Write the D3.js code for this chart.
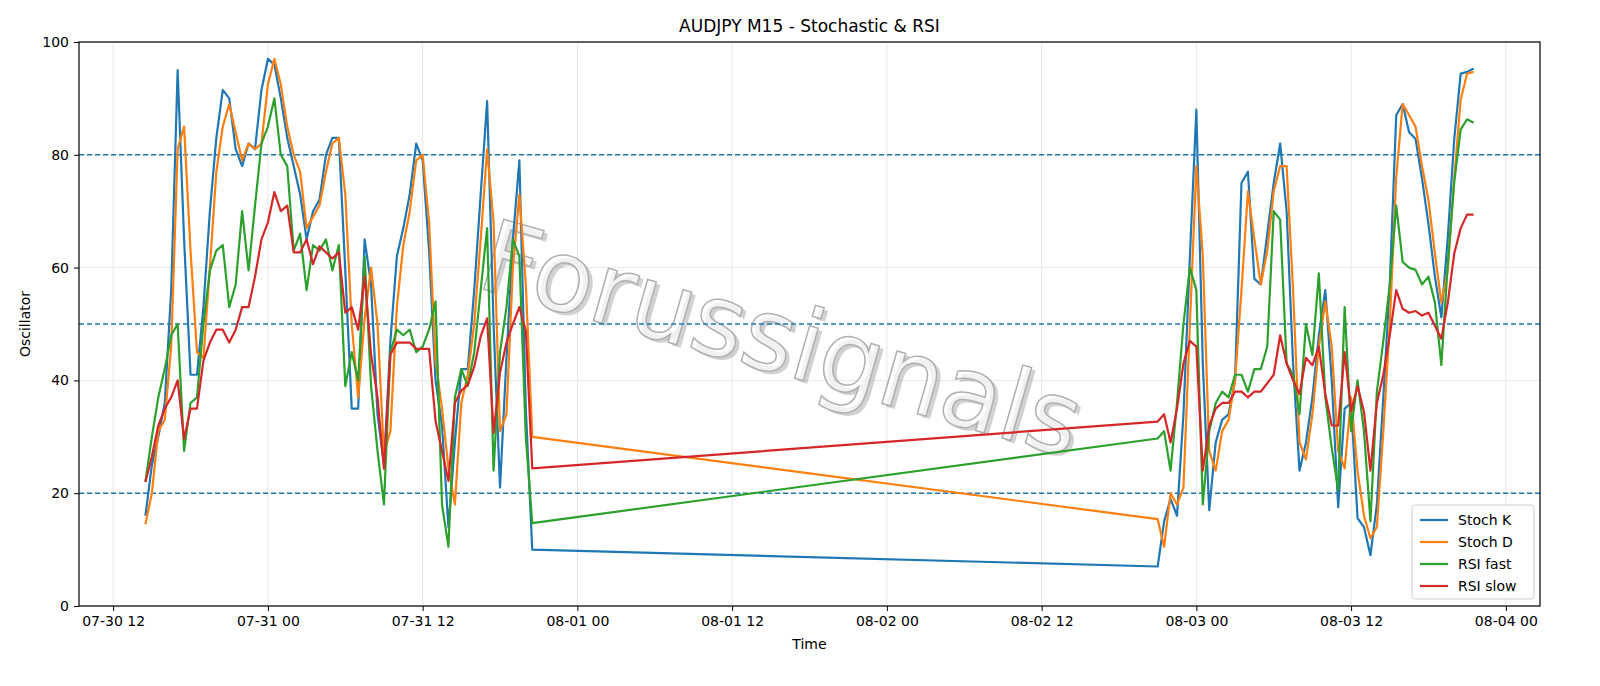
<!DOCTYPE html>
<html>
<head>
<meta charset="utf-8">
<script src="https://cdn.jsdelivr.net/npm/d3@7"></script>
<style>
  body { margin: 0; background: #fff; }
  text { font-family: "DejaVu Sans", sans-serif; }
</style>
</head>
<body>
<svg id="chart" width="1600" height="686"></svg>
<script>
// two runs of 30-minute bars with a gap between them
var seg1Start = "2020-07-30 14:30";
var seg2Start = "2020-08-02 21:00";

var stochK1 = [16,25,30,36,56,95,65,41,41,53,70,83,91.5,90,81,78,82,81,91.5,97,96,90,83,78,73,65,70,72,80,83,
  83,59.5,35,35,65,57,34,25,47,62,67,73,82,79,63,40,32,14,29,42,42,56,73,89.5,50,21,44,65,79,35,10];
var stochD1 = [14.5,20,31,33,46,81,85,63,45,44,60,77,85,89,84,79,82,81,82,92.5,97,92.5,85,80,77,67,69,71,77,82,
  83,73,50,37,51,60,50,27,31,53,64,70,79,80,68,43.5,35,24.5,18,36,41,50,65,81,68,31,34,60,73,57,30];
var rsiFast1 = [22,30,37,42,48,50,27.5,36,37,50,59.5,63,64,53,57,70,59.5,71,82,85,90,80,78,63,66,56,64,63,65,59.5,
  64,39,45,40,62,39,27.5,18,45,49,48,49,45,46,49,54,18,10.5,37,42,39,45,56,67,24,45,53,65,62,30,14.7];
var rsiSlow1 = [22,26.5,32,35,37,40,29.6,35,35,43.5,46.7,49,49,46.7,49,53,53,58.4,65,68,73.4,70,71,62.7,62.7,65,60.6,63.8,62.7,61.6,
  62.7,52,53,49,58.4,44.6,37,24.3,44.6,46.7,46.7,46.7,45.6,45.6,45.6,32.8,27.5,22.2,36,38.2,39.2,42.4,47.8,51,30.7,41.4,46.7,50,53,48.8,24.4];

var stochK2 = [7,15,19,16,34,62,88,43,17,29,33,34,40,75,77,58,57,66,75,82,70,43,24,29,37,48,56,40,17.5,35,
  36,15.6,14,9,18,37,57,87,89,84,82.8,75.8,67.7,58.4,51.2,65.4,82.8,94.4,94.7,95.3];
var stochD2 = [15.4,10.5,20,18,21,50,78,62,27.5,24,31,33,40,56,73.5,65,57,63,73.5,78,78,56,29,26,34,46,54,46,27.5,24.4,
  37,24,16,12,14,31,50,76,89,87,85,78,72,62.5,53.8,59.6,75.8,89.8,94.4,94.7];
var rsiFast2 = [29.7,31,24,36,50,60,56,18,31,36,38,37,41,41,38,42,42,46,70,68.5,43,41,34,50,44.5,59,37,28,20.6,53,
  31,40,31,15,38,47,57,71,61,60,59.6,57,58.4,53.8,42.7,60.7,75.2,84.5,86.3,85.7];
var rsiSlow2 = [32.7,34,29,35,43,47,46,24,32,35,36,36,38,38,37,38,38,39.5,41,48,43,40,37.6,44,42.7,46,37.6,32,32,45,
  34.5,39,34.5,24,36,41,48,56,52.7,52,52.3,51.5,52,49.7,47.4,53.8,62.5,67,69.4,69.4];

var seriesNames = ["Stoch K", "Stoch D", "RSI fast", "RSI slow"];
var seriesColors = ["#1f77b4", "#ff7f0e", "#2ca02c", "#d62728"];
var levels = [20, 50, 80];
var yTicks = [0, 20, 40, 60, 80, 100];

var parse = d3.timeParse("%Y-%m-%d %H:%M");
function times(start, n) {
    var t0 = parse(start);
    return d3.range(n).map(i => d3.timeMinute.offset(t0, i * 30));
}
var t1 = times(seg1Start, stochK1.length);
var t2 = times(seg2Start, stochK2.length);
var allTimes = t1.concat(t2);

var series = [
    stochK1.concat(stochK2),
    stochD1.concat(stochD2),
    rsiFast1.concat(rsiFast2),
    rsiSlow1.concat(rsiSlow2)
];

var W = 1600, H = 686;
var margin = {top: 42, right: 60, bottom: 80, left: 79};
var w = W - margin.left - margin.right;
var h = H - margin.top - margin.bottom;

var svg = d3.select("#chart");
var g = svg.append("g").attr("transform", `translate(${margin.left},${margin.top})`);

var tMin = d3.min(allTimes), tMax = d3.max(allTimes);
var pad = (tMax - tMin) * 0.05;
var x = d3.scaleTime()
    .domain([new Date(+tMin - pad), new Date(+tMax + pad)])
    .range([0, w]);
var y = d3.scaleLinear().domain([0, 100]).range([h, 0]);

var xTicks = d3.timeHour.every(12).range(x.domain()[0], x.domain()[1]);

// grid
g.selectAll(".vgrid").data(xTicks).enter().append("line")
    .attr("x1", d => x(d)).attr("x2", d => x(d))
    .attr("y1", 0).attr("y2", h)
    .attr("stroke", "#e6e6e6").attr("stroke-width", 1);
g.selectAll(".hgrid").data(yTicks).enter().append("line")
    .attr("x1", 0).attr("x2", w)
    .attr("y1", d => y(d)).attr("y2", d => y(d))
    .attr("stroke", "#e6e6e6").attr("stroke-width", 1);

// watermark
var wmX = 772 - margin.left, wmY = 372 - margin.top;
g.append("text")
    .attr("transform", `translate(${wmX + 4},${wmY + 3}) rotate(16)`)
    .attr("text-anchor", "middle")
    .attr("font-size", 100)
    .attr("fill", "#9a9a9a")
    .attr("opacity", 0.45)
    .text("Forussignals");
g.append("text")
    .attr("transform", `translate(${wmX},${wmY}) rotate(16)`)
    .attr("text-anchor", "middle")
    .attr("font-size", 100)
    .attr("fill", "#ffffff")
    .attr("fill-opacity", 0.7)
    .attr("stroke", "#b0b0b0")
    .attr("stroke-width", 1.5)
    .text("Forussignals");

// level lines
g.selectAll(".level").data(levels).enter().append("line")
    .attr("x1", 0).attr("x2", w)
    .attr("y1", d => y(d)).attr("y2", d => y(d))
    .attr("stroke", "#1f77b4").attr("stroke-width", 1.4)
    .attr("stroke-dasharray", "5,3");

// series
var line = d3.line().x((d, i) => x(allTimes[i])).y(d => y(d));
series.forEach((s, i) => {
    g.append("path")
        .datum(s)
        .attr("fill", "none")
        .attr("stroke", seriesColors[i])
        .attr("stroke-width", 2.2)
        .attr("stroke-linejoin", "round")
        .attr("d", line);
});

// axes
var xAxis = d3.axisBottom(x).tickValues(xTicks).tickFormat(d3.timeFormat("%m-%d %H")).tickSize(5).tickPadding(5);
var yAxis = d3.axisLeft(y).tickValues(yTicks).tickSize(5).tickPadding(5);

var gx = g.append("g").attr("transform", `translate(0,${h})`).call(xAxis);
var gy = g.append("g").call(yAxis);
[gx, gy].forEach(a => {
    a.select(".domain").remove();
    a.selectAll("text").attr("font-size", 14).attr("fill", "#000").attr("font-family", "DejaVu Sans");
    a.selectAll("line").attr("stroke", "#000");
});

g.append("rect")
    .attr("width", w).attr("height", h)
    .attr("fill", "none").attr("stroke", "#000").attr("stroke-width", 1.2);

// labels
svg.append("text")
    .attr("x", margin.left + w / 2).attr("y", 32)
    .attr("text-anchor", "middle").attr("font-size", 17)
    .text("AUDJPY M15 - Stochastic & RSI");
svg.append("text")
    .attr("x", margin.left + w / 2).attr("y", 649)
    .attr("text-anchor", "middle").attr("font-size", 14)
    .text("Time");
svg.append("text")
    .attr("transform", `translate(30,${margin.top + h / 2}) rotate(-90)`)
    .attr("text-anchor", "middle").attr("font-size", 14)
    .text("Oscillator");

// legend
var lg = g.append("g").attr("transform", `translate(${w - 128},${h - 101})`);
lg.append("rect")
    .attr("width", 122).attr("height", 94).attr("rx", 3)
    .attr("fill", "#fff").attr("fill-opacity", 0.8)
    .attr("stroke", "#ccc");
seriesNames.forEach((n, i) => {
    lg.append("line")
        .attr("x1", 8).attr("x2", 36)
        .attr("y1", 15 + i * 22).attr("y2", 15 + i * 22)
        .attr("stroke", seriesColors[i]).attr("stroke-width", 2.2);
    lg.append("text")
        .attr("x", 46).attr("y", 20 + i * 22)
        .attr("font-size", 14)
        .text(n);
});
</script>
</body>
</html>
